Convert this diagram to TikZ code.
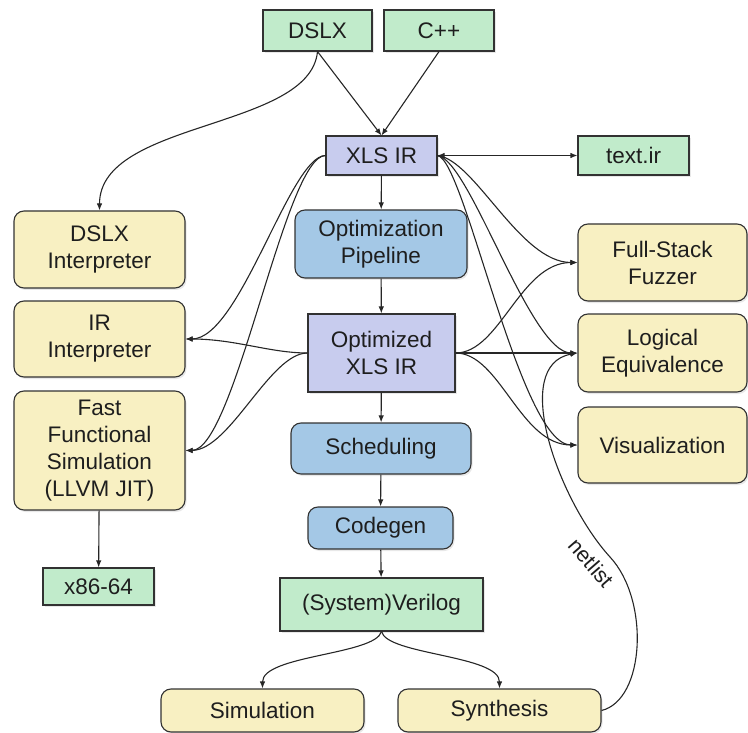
\documentclass[tikz,border=0pt]{standalone}
\usepackage{fontspec}
\setmainfont{Liberation Sans}
\usetikzlibrary{arrows.meta,shadows}
\definecolor{boxgreen}{RGB}{193,235,203}
\definecolor{boxblue}{RGB}{164,200,230}
\definecolor{boxlav}{RGB}{200,204,238}
\definecolor{boxyellow}{RGB}{248,240,194}
\definecolor{edgegray}{RGB}{50,50,50}
\definecolor{inkgray}{RGB}{30,30,30}
\begin{document}
\begin{tikzpicture}[x=1pt,y=-1pt,
  box/.style={draw=edgegray, line width=1.1pt, text=inkgray,
    font=\fontsize{22.5}{27}\selectfont, align=center, inner sep=0pt,
    drop shadow={shadow xshift=1.5pt, shadow yshift=-2pt, opacity=0.18}},
  greenbox/.style={box, fill=boxgreen},
  lavbox/.style={box, fill=boxlav},
  bluebox/.style={box, fill=boxblue, rounded corners=10pt},
  yellowbox/.style={box, fill=boxyellow, rounded corners=10pt},
  arr/.style={draw=black!85, line width=1.1pt, -{Latex[length=7pt,width=5.5pt]}},
  biarr/.style={draw=black!85, line width=1.1pt, {Latex[length=7pt,width=5.5pt]}-{Latex[length=7pt,width=5.5pt]}}
]
\useasboundingbox (0,0) rectangle (748,733);

% sources
\node[greenbox, minimum width=109pt, minimum height=41pt] (dslx) at (317.5,30.5) {DSLX};
\node[greenbox, minimum width=110pt, minimum height=41pt] (cpp) at (439,30.5) {C++};

% IR and text form
\node[lavbox, minimum width=111pt, minimum height=39pt] (xlsir) at (381.5,155.5) {XLS IR};
\node[greenbox, minimum width=111pt, minimum height=39pt] (textir) at (633.5,155.5) {text.ir};

% left column: interpreters and JIT
\node[yellowbox, minimum width=171pt, minimum height=77pt] (dslxint) at (99.5,249.5) {DSLX\\Interpreter};
\node[yellowbox, minimum width=171pt, minimum height=76pt] (irint) at (99.5,339) {IR\\Interpreter};
\node[yellowbox, minimum width=171pt, minimum height=119pt] (ffs) at (99.5,450.5) {Fast\\Functional\\Simulation\\(LLVM JIT)};
\node[greenbox, minimum width=111pt, minimum height=37pt] (x86) at (98.5,586.5) {x86-64};

% central pipeline
\node[bluebox, minimum width=172pt, minimum height=68pt] (optpipe) at (381,244) {Optimization\\Pipeline};
\node[lavbox, minimum width=147pt, minimum height=78pt] (optir) at (381.5,353) {Optimized\\XLS IR};
\node[bluebox, minimum width=180pt, minimum height=51pt] (sched) at (381,448.5) {Scheduling};
\node[bluebox, minimum width=145pt, minimum height=42pt] (codegen) at (380.5,528) {Codegen};
\node[greenbox, minimum width=203pt, minimum height=53pt] (verilog) at (381.5,604.5) {(System)Verilog};

% right column: verification tools
\node[yellowbox, minimum width=169pt, minimum height=77pt] (fuzzer) at (662.5,262.5) {Full-Stack\\Fuzzer};
\node[yellowbox, minimum width=169pt, minimum height=78pt] (logeq) at (662.5,353) {Logical\\Equivalence};
\node[yellowbox, minimum width=169pt, minimum height=76pt] (viz) at (662.5,445) {Visualization};

% back end
\node[yellowbox, minimum width=203pt, minimum height=43pt] (sim) at (262.5,710.5) {Simulation};
\node[yellowbox, minimum width=203pt, minimum height=43pt] (synth) at (499.5,710.5) {Synthesis};

% front end into the IR
\draw[arr] (dslx.south) -- (xlsir.north);
\draw[arr] (cpp.south) -- (xlsir.north);
\draw[arr] (dslx.south) .. controls (310,130) and (99.5,120) .. (dslxint.north);
\draw[biarr] (xlsir.east) -- (textir.west);

% main pipeline
\draw[arr] (xlsir) -- (optpipe);
\draw[arr] (optpipe) -- (optir);
\draw[arr] (optir) -- (sched);
\draw[arr] (sched) -- (codegen);
\draw[arr] (codegen) -- (verilog);
\draw[arr] (ffs) -- (x86);

% IR consumers on the left
\draw[arr] (xlsir.west) .. controls (290,156) and (240,339) .. (irint.east);
\draw[arr] (xlsir.west) .. controls (285,156) and (235,450) .. (ffs.east);
\draw[arr] (optir.west) .. controls (270,353) and (235,339) .. (irint.east);
\draw[arr] (optir.west) .. controls (270,353) and (230,450) .. (ffs.east);

% IR consumers on the right
\draw[arr] (xlsir.east) .. controls (475,160) and (520,262.5) .. (fuzzer.west);
\draw[arr] (xlsir.east) .. controls (470,160) and (530,353) .. (logeq.west);
\draw[arr] (xlsir.east) .. controls (465,160) and (520,445) .. (viz.west);
\draw[arr] (optir.east) .. controls (500,353) and (520,262.5) .. (fuzzer.west);
\draw[arr] (optir.east) -- (logeq.west);
\draw[arr] (optir.east) .. controls (500,353) and (520,445) .. (viz.west);

% Verilog consumers
\draw[arr] (verilog.south) .. controls (375,655) and (262.5,655) .. (sim.north);
\draw[arr] (verilog.south) .. controls (387,655) and (499.5,655) .. (synth.north);

% netlist back to equivalence checking
\coordinate (netmid) at (610,557);
\draw[arr] (synth.east) .. controls (645,700) and (650,600) .. (netmid)
  .. controls (558,500) and (510,365) .. (logeq.west);
\node[font=\fontsize{21.5}{26}\selectfont, text=inkgray, rotate=-49] (netlbl) at (591,563) {netlist};
\end{tikzpicture}
\end{document}
